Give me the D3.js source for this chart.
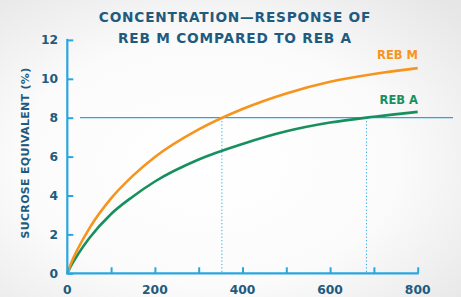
<!DOCTYPE html>
<html><head><meta charset="utf-8">
<script src="https://cdn.jsdelivr.net/npm/d3@7"></script>
<style>
html,body{margin:0;padding:0;}
body{width:461px;height:297px;overflow:hidden;background:#fff;}
</style></head>
<body>
<script>
const concentrations = [0, 10, 25, 50, 100, 150, 200, 300, 400, 500, 600, 700, 800];
const rebM = [0, 0.6, 1.3, 2.3, 3.85, 5.02, 5.98, 7.4, 8.45, 9.25, 9.85, 10.25, 10.55];
const rebA = [0, 0.45, 1.0, 1.8, 3.05, 3.95, 4.72, 5.85, 6.65, 7.3, 7.75, 8.05, 8.3];
const xTickValues = [0, 100, 200, 300, 400, 500, 600, 700, 800];
const xTickLabels = ["0", "", "200", "", "400", "", "600", "", "800"];
const yTickValues = [0, 2, 4, 6, 8, 10, 12];
const targetLevel = 8;
const crossings = [353, 683];
const titleLines = ["CONCENTRATION\u2014RESPONSE OF", "REB M COMPARED TO REB A"];
const yAxisTitle = "SUCROSE EQUIVALENT (%)";
const seriesNames = ["REB M", "REB A"];

const W = 461, H = 297;
const navy = "#1f5b7f", axisBlue = "#2aa6df", orange = "#f7941d", green = "#17905f";
const font = "'DejaVu Sans', sans-serif";

const svg = d3.select("body").append("svg").attr("width", W).attr("height", H);
const defs = svg.append("defs");
const grad = defs.append("radialGradient").attr("id", "bg")
  .attr("cx", "45%").attr("cy", "55%").attr("r", "75%");
grad.append("stop").attr("offset", "0%").attr("stop-color", "#ffffff");
grad.append("stop").attr("offset", "55%").attr("stop-color", "#fbfbfb");
grad.append("stop").attr("offset", "100%").attr("stop-color", "#e6e6e7");
svg.append("rect").attr("width", W).attr("height", H).attr("fill", "url(#bg)");

const x = d3.scaleLinear().domain([0, 800]).range([67.3, 417.7]);
const y = d3.scaleLinear().domain([0, 12]).range([273.3, 39.9]);

// title
titleLines.forEach((t, i) => {
  svg.append("text").attr("x", 235).attr("y", 22 + i * 21).attr("text-anchor", "middle")
    .attr("font-family", font).attr("font-weight", "bold").attr("font-size", 13.7)
    .attr("letter-spacing", 0.8).attr("fill", navy).text(t);
});

// y axis title
svg.append("text").attr("transform", `translate(29,153) rotate(-90)`)
  .attr("text-anchor", "middle").attr("font-family", font).attr("font-weight", "bold")
  .attr("font-size", 11).attr("letter-spacing", 0.3).attr("fill", navy).text(yAxisTitle);

// target line
svg.append("line").attr("x1", 80).attr("x2", 453).attr("y1", y(targetLevel)).attr("y2", y(targetLevel))
  .attr("stroke", axisBlue).attr("stroke-width", 1.2);
crossings.forEach(c => {
  svg.append("line").attr("x1", x(c)).attr("x2", x(c)).attr("y1", y(targetLevel)).attr("y2", y(0))
    .attr("stroke", axisBlue).attr("stroke-width", 1).attr("stroke-dasharray", "1.2,2.2");
});

// curves
const line = d3.line().x((d, i) => x(concentrations[i])).y(d => y(d)).curve(d3.curveMonotoneX);
svg.append("path").attr("d", line(rebA)).attr("fill", "none").attr("stroke", green).attr("stroke-width", 2.6);
svg.append("path").attr("d", line(rebM)).attr("fill", "none").attr("stroke", orange).attr("stroke-width", 2.6);

// axes
const yAxis = d3.axisRight(y).tickValues(yTickValues).tickSize(6).tickFormat("");
const gy = svg.append("g").attr("transform", `translate(${x(0)},0)`).call(yAxis);
gy.select(".domain").remove();
gy.selectAll(".tick line").attr("stroke", axisBlue).attr("stroke-width", 2);
svg.append("line").attr("x1", x(0)).attr("x2", x(0)).attr("y1", y(12) - 1).attr("y2", y(0) + 1)
  .attr("stroke", axisBlue).attr("stroke-width", 2.2);

const xAxis = d3.axisTop(x).tickValues(xTickValues).tickSize(6).tickFormat("");
const gx = svg.append("g").attr("transform", `translate(0,${y(0)})`).call(xAxis);
gx.select(".domain").remove();
gx.selectAll(".tick line").attr("stroke", axisBlue).attr("stroke-width", 2);
svg.append("line").attr("x1", x(0) - 1).attr("x2", x(800) + 1).attr("y1", y(0)).attr("y2", y(0))
  .attr("stroke", axisBlue).attr("stroke-width", 2.2);

// tick labels
svg.append("g").selectAll("text").data(yTickValues).join("text")
  .attr("x", 58).attr("y", d => y(d) + 4.5).attr("text-anchor", "end")
  .attr("font-family", font).attr("font-weight", "bold").attr("font-size", 12.3).attr("fill", navy)
  .text(d => d);
svg.append("g").selectAll("text").data(xTickValues).join("text")
  .attr("x", d => x(d)).attr("y", 294).attr("text-anchor", "middle")
  .attr("font-family", font).attr("font-weight", "bold").attr("font-size", 12.3).attr("fill", navy)
  .text((d, i) => xTickLabels[i]);

// series labels
svg.append("text").attr("x", 418).attr("y", y(10.55) - 9).attr("text-anchor", "end")
  .attr("font-family", font).attr("font-weight", "bold").attr("font-size", 11.5).attr("fill", orange)
  .text(seriesNames[0]);
svg.append("text").attr("x", 418).attr("y", y(8.3) - 8).attr("text-anchor", "end")
  .attr("font-family", font).attr("font-weight", "bold").attr("font-size", 11.5).attr("fill", green)
  .text(seriesNames[1]);
</script>
</body></html>
